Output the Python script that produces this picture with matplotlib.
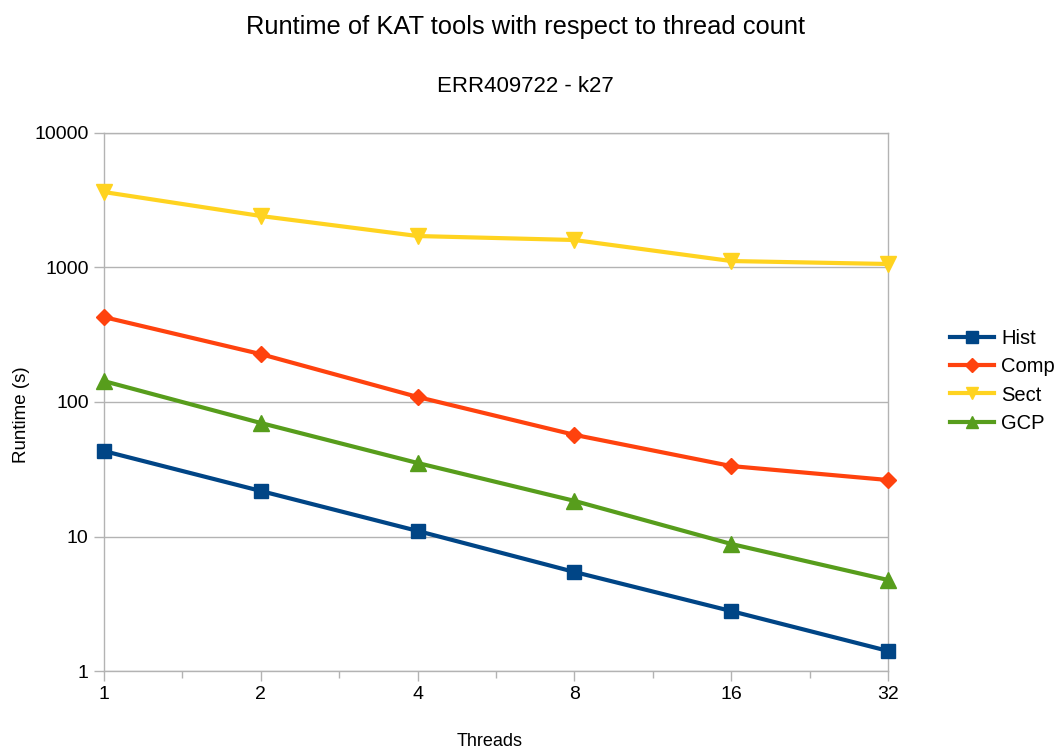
import matplotlib
matplotlib.use('Agg')
import matplotlib.pyplot as plt
import numpy as np
from matplotlib.ticker import FixedLocator, NullFormatter

plt.rcParams['font.family'] = ['Liberation Sans', 'DejaVu Sans']

# Thread counts (categorical x axis)
threads = ['1', '2', '4', '8', '16', '32']

# Runtime in seconds per tool
hist = [43.2, 21.8, 11.0, 5.45, 2.79, 1.41]
comp = [428, 227, 109, 57, 33.4, 26.3]
sect = [3640, 2415, 1714, 1601, 1117, 1062]
gcp = [143, 69.8, 35.2, 18.4, 8.8, 4.75]

series = [
    ('Hist', hist, '#004586', 's', 10),
    ('Comp', comp, '#ff420e', 'D', 8),
    ('Sect', sect, '#ffd320', 'v', 11),
    ('GCP', gcp, '#579d1c', '^', 11),
]

grid_col = '#b3b3b3'

fig = plt.figure(figsize=(10.6, 7.54), dpi=100)
ax = fig.add_axes([104 / 1060, 1 - 671 / 754, (888 - 104) / 1060, (671 - 133) / 754])

x = np.arange(len(threads))
for name, vals, col, mk, ms in series:
    ax.plot(x, vals, color=col, linewidth=3, marker=mk, markersize=ms,
            label=name, clip_on=False, zorder=3)

ax.set_yscale('log')
ax.set_ylim(1, 10000)
ax.set_xlim(0, len(threads) - 1)

ax.yaxis.set_major_locator(FixedLocator([1, 10, 100, 1000, 10000]))
ax.yaxis.set_minor_locator(FixedLocator([]))
ax.set_yticklabels(['1', '10', '100', '1000', '10000'])
ax.set_xticks(x)
ax.set_xticklabels(threads)
ax.set_xticks(x[:-1] + 0.5, minor=True)
ax.xaxis.set_minor_formatter(NullFormatter())

ax.grid(axis='y', color=grid_col, linewidth=1)
ax.set_axisbelow(True)
for sp in ax.spines.values():
    sp.set_color(grid_col)
    sp.set_linewidth(1)

ax.tick_params(axis='both', which='major', length=7, width=1, color=grid_col,
               labelsize=14, pad=4)
ax.tick_params(axis='x', which='minor', length=5, width=1, color=grid_col)

fig.text(490 / 1060, 1 - 741 / 754, 'Threads', ha='center', va='center', fontsize=13)
fig.text(22 / 1060, 1 - 415 / 754, 'Runtime (s)', ha='center', va='center',
         rotation=90, fontsize=13.5)

fig.text(525 / 1060, 1 - 27 / 754, 'Runtime of KAT tools with respect to thread count',
         ha='center', va='center', fontsize=18.4)
fig.text(525 / 1060, 1 - 86 / 754, 'ERR409722 - k27',
         ha='center', va='center', fontsize=16)

fig.legend(loc='center left', bbox_to_anchor=(950 / 1060, 1 - 381 / 754),
           frameon=False, fontsize=14.5, handlelength=2.2, handletextpad=0.33,
           labelspacing=0.45, borderaxespad=0, borderpad=0, markerscale=0.85)

plt.savefig('out.png', dpi=100, facecolor='white')
